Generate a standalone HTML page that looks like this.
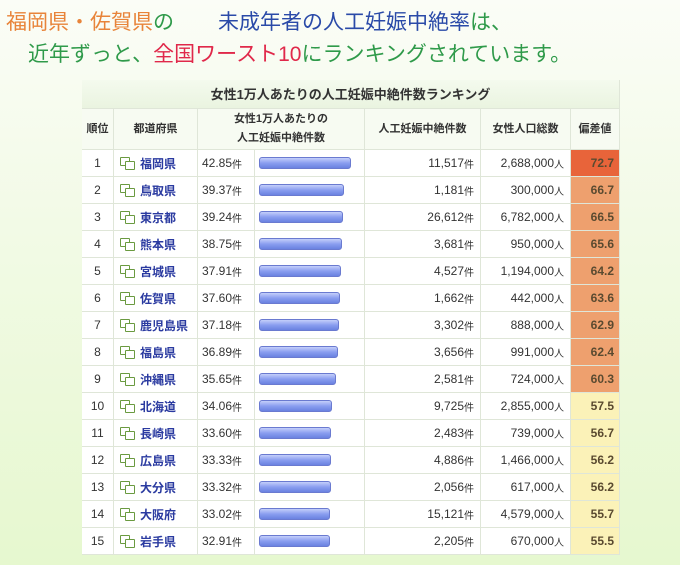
<!DOCTYPE html>
<html><head><meta charset="utf-8">
<style>
*{margin:0;padding:0;box-sizing:border-box}
body{width:680px;height:565px;overflow:hidden;background:linear-gradient(180deg,#fbfdf7 0%,#f2fae6 40%,#e6f8cf 100%);font-family:"Liberation Sans","Noto Sans CJK JP",sans-serif;position:relative}
.t{position:absolute;white-space:nowrap;font-size:21px}
#tbl{position:absolute;left:82px;top:80px;width:538px;height:474px;background:#fff}
.c{position:absolute;border-right:1px solid #dfe6d8;border-bottom:1px solid #dfe6d8;font-size:12px;color:#333;display:flex;align-items:center}
.h{font-weight:bold;font-size:11px;justify-content:center;text-align:center;background:#f7fbf2;line-height:19px}
</style></head><body>
<div class="t" style="left:6px;top:6px"><span style="color:#e8843a">福岡県・佐賀県</span><span style="color:#2f9a4a">の</span><span style="margin-left:44px;color:#2a4aa8">未成年者の人工妊娠中絶率</span><span style="color:#2f9a4a">は、</span></div>
<div class="t" style="left:28px;top:38px;color:#2f9a4a">近年ずっと、<span style="color:#e0284a">全国ワースト10</span>にランキングされています。</div>
<div id="tbl">
<div class="c h" style="left:0;top:0;width:538px;height:29px;font-size:13px;background:linear-gradient(#f4faee,#eaf4e0)">女性1万人あたりの人工妊娠中絶件数ランキング</div>
</div>
<script>
const ranks=[1,2,3,4,5,6,7,8,9,10,11,12,13,14,15];
const prefs=["福岡県","鳥取県","東京都","熊本県","宮城県","佐賀県","鹿児島県","福島県","沖縄県","北海道","長崎県","広島県","大分県","大阪府","岩手県"];
const rates=[42.85,39.37,39.24,38.75,37.91,37.60,37.18,36.89,35.65,34.06,33.60,33.33,33.32,33.02,32.91];
const counts=["11,517","1,181","26,612","3,681","4,527","1,662","3,302","3,656","2,581","9,725","2,483","4,886","2,056","15,121","2,205"];
const pops=["2,688,000","300,000","6,782,000","950,000","1,194,000","442,000","888,000","991,000","724,000","2,855,000","739,000","1,466,000","617,000","4,579,000","670,000"];
const devs=[72.7,66.7,66.5,65.6,64.2,63.6,62.9,62.4,60.3,57.5,56.7,56.2,56.2,55.7,55.5];
const T=document.getElementById('tbl');
function cell(x,y,w,h,html,cls,name){const d=document.createElement('div');d.className='c '+(cls||'');d.style.cssText=`left:${x}px;top:${y}px;width:${w}px;height:${h}px;`;d.innerHTML=html;


T.appendChild(d);return d;}
cell(0,29,32,41,"順位",'h','header-rank');cell(32,29,84,41,"都道府県",'h','header-prefecture');
cell(116,29,167,41,"女性1万人あたりの<br>人工妊娠中絶件数",'h','header-rate');cell(283,29,116,41,"人工妊娠中絶件数",'h','header-count');
cell(399,29,90,41,"女性人口総数",'h','header-population');cell(489,29,49,41,"偏差値",'h','header-deviation');
const y0=70,rh=27,sc=2.15;
function devColor(v){return v>=70?'#e8643a':v>=60?'#eea06e':'#fbf2b8';}
ranks.forEach((r,i)=>{const y=y0+i*rh;
cell(0,y,32,rh,r,'','rank-cell').style.justifyContent='center';
const p=cell(32,y,84,rh,`<span style="display:inline-block;width:15px;height:13px;position:relative;margin:0 5px 0 6px"><span style="position:absolute;left:0;top:0;width:10px;height:9px;border:1.5px solid #6a9a40;border-radius:1px"></span><span style="position:absolute;left:5px;top:4px;width:10px;height:9px;border:1.5px solid #6a9a40;border-radius:1px;background:#fff"></span></span><span style="color:#2a3aa0;font-weight:bold">${prefs[i]}</span>`,'','prefecture-link');

cell(116,y,57,rh,rates[i].toFixed(2)+'<span style="font-size:10px"> 件</span>','','rate-value').style.paddingLeft='4px';
const b=cell(173,y,110,rh,'','','rate-bar-cell');
const bar=document.createElement('div');


bar.style.cssText=`margin-left:4px;height:12px;width:${rates[i]*sc}px;background:linear-gradient(#c4cffa,#8a9ef0 50%,#6a82e0);border:1px solid #6a7ad0;border-radius:3px`;
b.appendChild(bar);
const c=cell(283,y,116,rh,counts[i]+'<span style="font-size:10px"> 件</span>','','count-value');c.style.justifyContent='flex-end';c.style.paddingRight='6px';
const q=cell(399,y,90,rh,pops[i]+'<span style="font-size:10px"> 人</span>','','population-value');q.style.justifyContent='flex-end';q.style.paddingRight='6px';
const d=cell(489,y,49,rh,devs[i].toFixed(1),'','deviation-value');d.style.justifyContent='flex-end';d.style.paddingRight='5px';d.style.background=devColor(devs[i]);d.style.fontWeight='bold';d.style.color='#5a4a30';
});
</script>
</body></html>
